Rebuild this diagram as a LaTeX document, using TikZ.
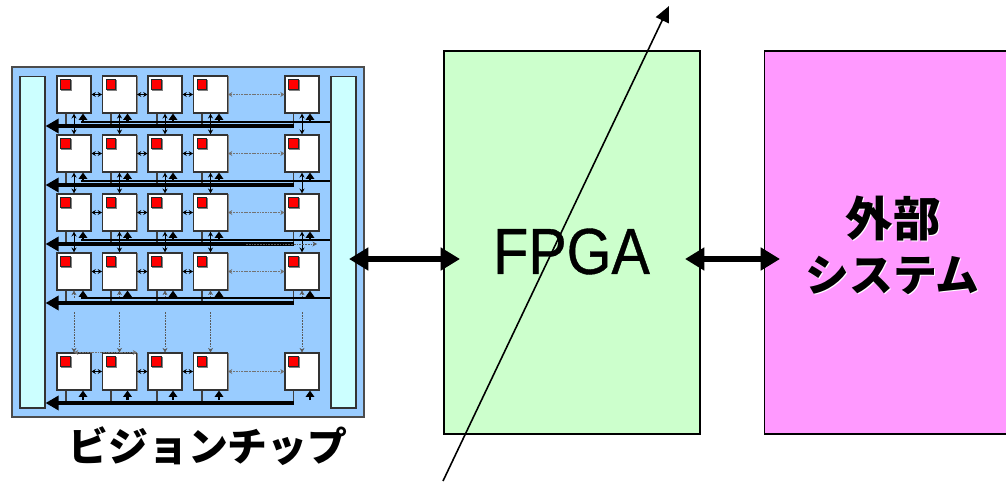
\documentclass[tikz,border=0pt]{standalone}
\usepackage{fontspec}
\setmainfont{Liberation Sans}
\newfontfamily\cjk{Noto Sans CJK JP}
\newfontfamily\blockfont[FakeBold=0.6,FakeStretch=0.885]{Liberation Sans}
\usetikzlibrary{calc,arrows.meta,shadows}
\def\pew{0.68cm}
\def\peh{0.74cm}
\tikzset{
	pe/.style = {draw=black!80, fill=white, line width=0.6pt, minimum width=\pew, minimum height=\peh, inner sep=0pt, copy shadow={shadow xshift=0.5pt, shadow yshift=-0.5pt, draw=gray, fill=gray}},
	redcell/.style = {draw=black!85, fill=red, line width=0.5pt, minimum size=0.19cm, inner sep=0pt, anchor=north west, copy shadow={shadow xshift=0.5pt, shadow yshift=-0.5pt, draw=gray, fill=gray}},
	bar/.style = {draw=black!80, fill={rgb,255:red,204;green,255;blue,255}, line width=0.6pt, inner sep=0pt, minimum width=0.5cm, minimum height=6.64cm},
	block/.style = {draw=black, line width=0.8pt, inner sep=0pt, minimum height=7.66cm},
	hop/.style = {{Stealth[length=2.4pt,width=2.8pt]}-{Stealth[length=2.4pt,width=2.8pt]}, line width=0.5pt, black},
	farhop/.style = {{Stealth[length=2.4pt,width=2.8pt]}-{Stealth[length=2.4pt,width=2.8pt]}, dash pattern=on 1pt off 0.5pt, line width=0.35pt, black!55},
	dotlink/.style = {dash pattern=on 1pt off 0.6pt, line width=0.35pt, black!65, >={Stealth[length=2.6pt,width=2.8pt]}},
	bus/.style = {line width=2pt, {Triangle[length=7.5pt,width=8pt]}-},
	feed/.style = {line width=1.4pt},
	tap/.style = {line width=0.7pt, black!75},
	up/.style = {line width=1.3pt, -{Triangle[length=3.6pt,width=4.8pt]}},
	link/.style = {<->, >={Stealth[length=2.8pt,width=2.8pt]}, line width=0.45pt},
	biglink/.style = {line width=3.2pt, {Triangle[length=11pt,width=12.5pt]}-{Triangle[length=11pt,width=12.5pt]}},
	title/.style = {inner sep=0pt, align=center}
}
\begin{document}
\begin{tikzpicture}[x=0.02cm, y=-0.02cm, line cap = butt, line join = miter]
	\useasboundingbox (0,0) rectangle (1006,483);
	\clip (0,0) rectangle (1006,483);

	% Chip
	\node[draw=black!70, fill={rgb,255:red,153;green,204;blue,255}, line width=0.8pt, minimum width=7.04cm, minimum height=7cm, inner sep=0pt] (chip) at (188,242) {};
	\node[bar] (barl) at (32.5,242) {};
	\node[bar] (barr) at (343.5,242) {};

	% PE array
	\foreach \n/\ry in {1/94.5,2/153.5,3/212.5,4/271.5,5/371.5} {
		\foreach \i/\cx in {1/74,2/119.5,3/165,4/210.5,5/302} {
			\node[pe] (pe\n\i) at (\cx,\ry) {};
			\node[redcell] (cell\n\i) at ($(pe\n\i.north west)+(4,4)$) {};
		}
	}

	% Row to row
	\foreach \n in {1,2,3} {
		\pgfmathsetmacro{\nnext}{int(\n+1)}
		\foreach \i in {1,2,3,4,5} {
			\draw[link] (pe\n\i) -- (pe\nnext\i);
		}
	}
	% long gap to last row
	\foreach \i in {1,2,3,4,5} {
		\coordinate (gapa\i) at (pe4\i |- 0,298);
		\coordinate (gapb\i) at (pe4\i |- 0,312);
		\draw[dotlink, <-] (pe4\i) -- (gapa\i);
		\draw[dotlink, ->] (gapb\i) -- (pe5\i);
	}
	\draw[farhop] (pe51.north) -- (pe52.north east);

	% Row buses
	\foreach \n/\ybus in {1/126,2/185,3/244,4/303,5/403} {
		\coordinate (busl\n) at (barl.east |- 0,\ybus);
		\coordinate (busr\n) at (293.5,\ybus);
		\foreach \i/\cx in {1/66,2/111,3/157,4/202,5/293.5} {
			\coordinate (tap\n\i) at (\cx,\ybus);
			\draw[tap] (tap\n\i) -- (\cx,\ybus |- pe\n\i.south);
		}
		\draw[bus] (busl\n) -- (busr\n);
	}

	% Feed buses
	\foreach \n/\yfeed in {1/122,2/181,3/240,4/298} {
		\coordinate (feedl\n) at (81,\yfeed);
		\coordinate (feedr\n) at (barr.west |- 0,\yfeed);
		\draw[feed] (feedl\n) -- (feedr\n);
		\foreach \i/\cx in {1/83,2/127.5,3/173,4/219,5/310} {
			\coordinate (feed\n\i) at (\cx,\yfeed);
			\draw[up] (feed\n\i) -- (feed\n\i |- pe\n\i.south);
		}
	}
	\foreach \i/\cx in {1/83,2/127.5,3/173,4/219,5/310} {
		\coordinate (feed5\i) at (\cx,400);
		\draw[up] (feed5\i) -- (feed5\i |- pe5\i.south);
	}

	% Along a row
	\foreach \n in {1,2,3,4,5} {
		\draw[hop] (pe\n1) -- (pe\n2);
		\draw[hop] (pe\n2) -- (pe\n3);
		\draw[hop] (pe\n3) -- (pe\n4);
		\draw[farhop] (pe\n4) -- (pe\n5);
	}
	\coordinate (strayl) at (246,244);
	\coordinate (strayr) at (317,244);
	\draw[dotlink, ->] (strayl) -- (strayr);

	% Blocks
	\node[block, fill={rgb,255:red,204;green,255;blue,204}, minimum width=5.12cm] (fpga) at (572,242.5) {};
	\node[font=\fontsize{37pt}{40pt}\blockfont, inner sep=0pt] (fpgatext) at (571.5,251.5) {FPGA};
	\node[block, fill={rgb,255:red,255;green,153;blue,255}, minimum width=5.2cm] (ext) at (894.5,242.5) {};

	% Cut line
	\coordinate (cutb) at (443,481);
	\coordinate (cutt) at (669,6);
	\draw[line width=0.9pt, -{Triangle[length=9pt,width=8pt]}] (cutb) -- (cutt);

	% Big arrows
	\coordinate (chipport) at (349,259);
	\coordinate (fpgaportl) at (460,259);
	\coordinate (fpgaportr) at (685,259);
	\coordinate (extport) at (780,259);
	\draw[biglink] (chipport) -- (fpgaportl);
	\draw[biglink] (fpgaportr) -- (extport);

	% Labels
	\node[title, white, font=\fontsize{27pt}{28pt}\cjk\bfseries] (extshadowa) at (894,219) {外部};
	\node[title, white, font=\fontsize{25pt}{26pt}\cjk\bfseries] (extshadowb) at (893.5,276) {システム};
	\node[title, font=\fontsize{27pt}{28pt}\cjk\bfseries] (exta) at (893,218) {外部};
	\node[title, font=\fontsize{25pt}{26pt}\cjk\bfseries] (extb) at (892.5,275) {システム};
	\node[title, font=\fontsize{22.7pt}{24pt}\cjk\bfseries] (chiptext) at (208,446) {ビジョンチップ};
\end{tikzpicture}
\end{document}
